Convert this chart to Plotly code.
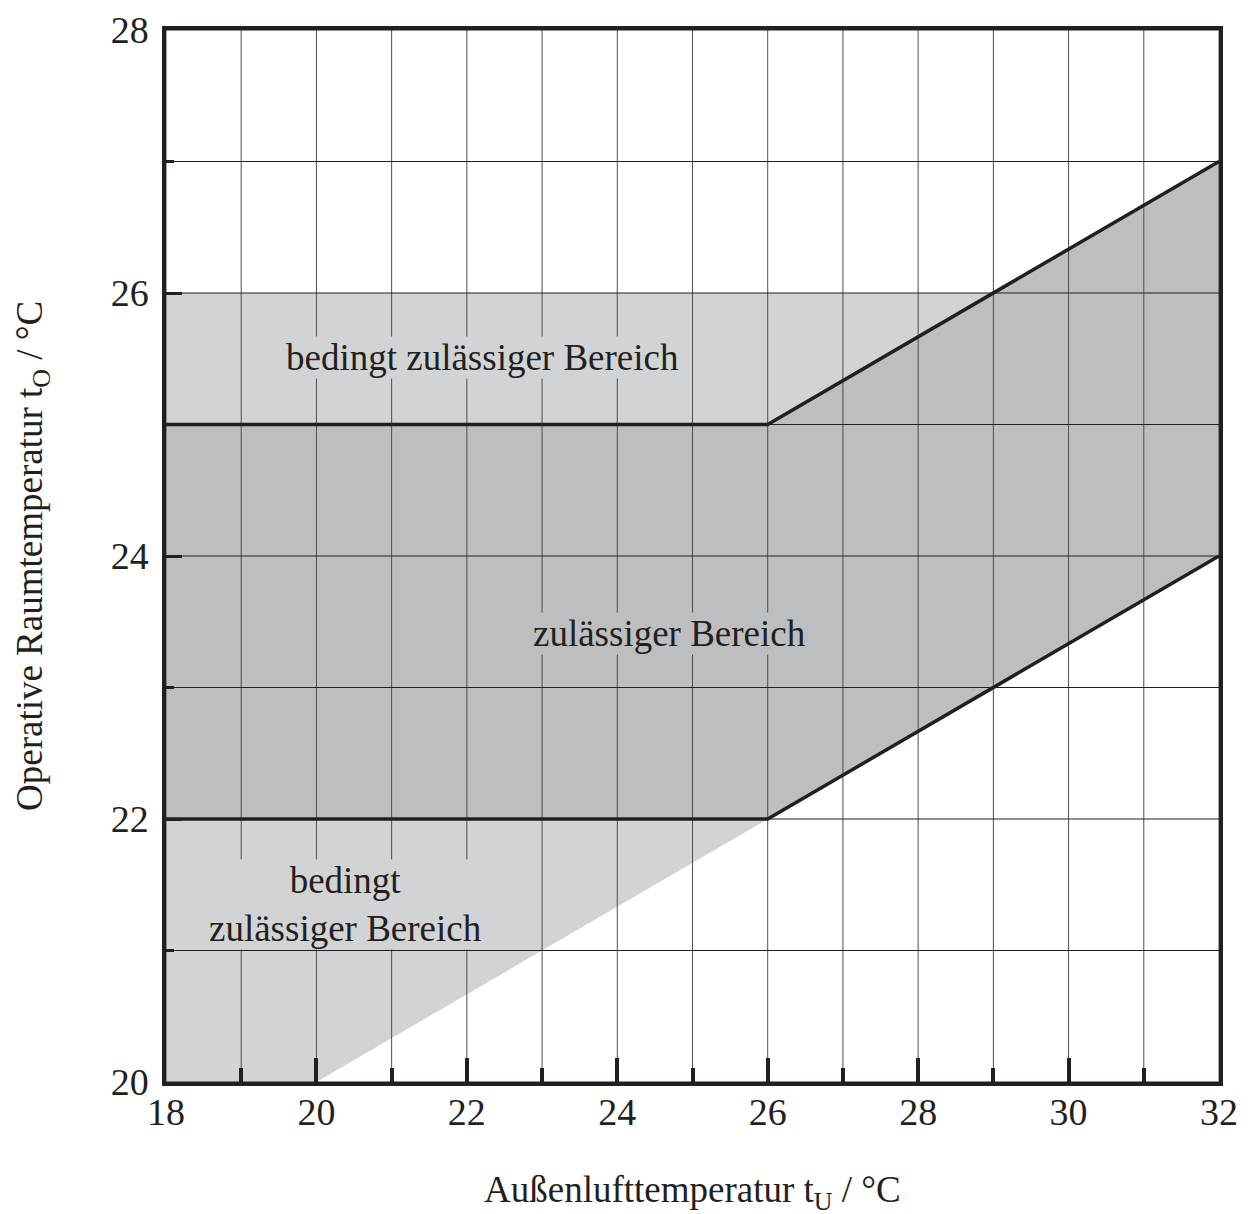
import plotly.graph_objects as go

# ---- data ----
x_ticks = list(range(18, 33))          # 18 .. 32
y_ticks = list(range(20, 29))          # 20 .. 28
x_range = [18, 32]
y_range = [20, 28]

# comfort limits (x breakpoints and upper/lower operative temperature)
limit_x = [18, 26, 32]
upper_limit = [25, 25, 27]
lower_limit = [22, 22, 24]

# conditionally allowed band above
cond_upper_x = [18, 26, 29, 18]
cond_upper_y = [25, 25, 26, 26]
# conditionally allowed band below
cond_lower_x = [18, 20, 26, 18]
cond_lower_y = [20, 20, 22, 22]

labels = ["bedingt zulässiger Bereich", "zulässiger Bereich", "bedingt<br>zulässiger Bereich"]
label_x = [22.21, 24.69, 20.39]
label_y = [25.51, 23.41, 21.35]

x_title = "Außenlufttemperatur t<sub>U</sub> / °C"
y_title = "Operative Raumtemperatur t<sub>O</sub> / °C"

LIGHT = "#d1d3d4"
DARK = "#bcbec0"
INK = "#231f20"
FONT = "Liberation Serif"

fig = go.Figure()

# filled regions
fig.add_trace(go.Scatter(x=cond_upper_x, y=cond_upper_y, fill="toself", fillcolor=LIGHT,
                         mode="lines", line=dict(width=0), hoverinfo="skip", showlegend=False))
fig.add_trace(go.Scatter(x=cond_lower_x, y=cond_lower_y, fill="toself", fillcolor=LIGHT,
                         mode="lines", line=dict(width=0), hoverinfo="skip", showlegend=False))
band_x = limit_x + limit_x[::-1]
band_y = lower_limit + upper_limit[::-1]
fig.add_trace(go.Scatter(x=band_x, y=band_y, fill="toself", fillcolor=DARK,
                         mode="lines", line=dict(width=0), hoverinfo="skip", showlegend=False))

# grid lines drawn above the fills
gx, gy = [], []
for v in x_ticks:
    gx += [v, v, None]
    gy += [y_range[0], y_range[1], None]
fig.add_trace(go.Scatter(x=gx, y=gy, mode="lines", line=dict(color="#4d4d4f", width=1),
                         hoverinfo="skip", showlegend=False))
hx, hy = [], []
for v in y_ticks:
    hx += [x_range[0], x_range[1], None]
    hy += [v, v, None]
fig.add_trace(go.Scatter(x=hx, y=hy, mode="lines", line=dict(color="#231f20", width=1),
                         hoverinfo="skip", showlegend=False))

# limit lines
fig.add_trace(go.Scatter(x=limit_x, y=upper_limit, mode="lines", line=dict(color=INK, width=3.5),
                         hoverinfo="skip", showlegend=False))
fig.add_trace(go.Scatter(x=limit_x, y=lower_limit, mode="lines", line=dict(color=INK, width=3.5),
                         hoverinfo="skip", showlegend=False))

bgs = [LIGHT, DARK, LIGHT]
for t, xx, yy, bg in zip(labels, label_x, label_y, bgs):
    fig.add_annotation(x=xx, y=yy, text=t, showarrow=False, bgcolor=bg, borderpad=0,
                       font=dict(family=FONT, size=37, color=INK), align="center")

# axis titles
fig.add_annotation(xref="paper", yref="paper", x=0.5, y=0, yanchor="middle", yshift=-110,
                   text=x_title, showarrow=False, font=dict(family=FONT, size=37, color=INK))
fig.add_annotation(xref="paper", yref="paper", x=0, y=0.5, xanchor="center", xshift=-134,
                   text=y_title, textangle=-90, showarrow=False,
                   font=dict(family=FONT, size=37, color=INK))

axis_common = dict(showgrid=False, zeroline=False, showline=True, linecolor=INK, linewidth=3.5,
                   mirror=True, ticks="inside", tickcolor=INK, automargin=False,
                   tickfont=dict(family=FONT, size=38, color=INK))

fig.update_xaxes(range=x_range, tickvals=x_ticks[::2], ticklen=24, tickwidth=4,
                 ticklabelstandoff=-6,
                 minor=dict(tickvals=x_ticks, ticks="inside", ticklen=14, tickwidth=4, tickcolor=INK),
                 **axis_common)
fig.update_yaxes(range=y_range, tickvals=y_ticks[::2], ticklen=16, tickwidth=3,
                 ticklabelstandoff=6,
                 minor=dict(tickvals=y_ticks, ticks="inside", ticklen=8, tickwidth=3, tickcolor=INK),
                 **axis_common)

fig.update_layout(width=1252, height=1214, margin=dict(l=158, r=41, t=22, b=140),
                  plot_bgcolor="white", paper_bgcolor="white", showlegend=False)

fig.write_html("out.html")
